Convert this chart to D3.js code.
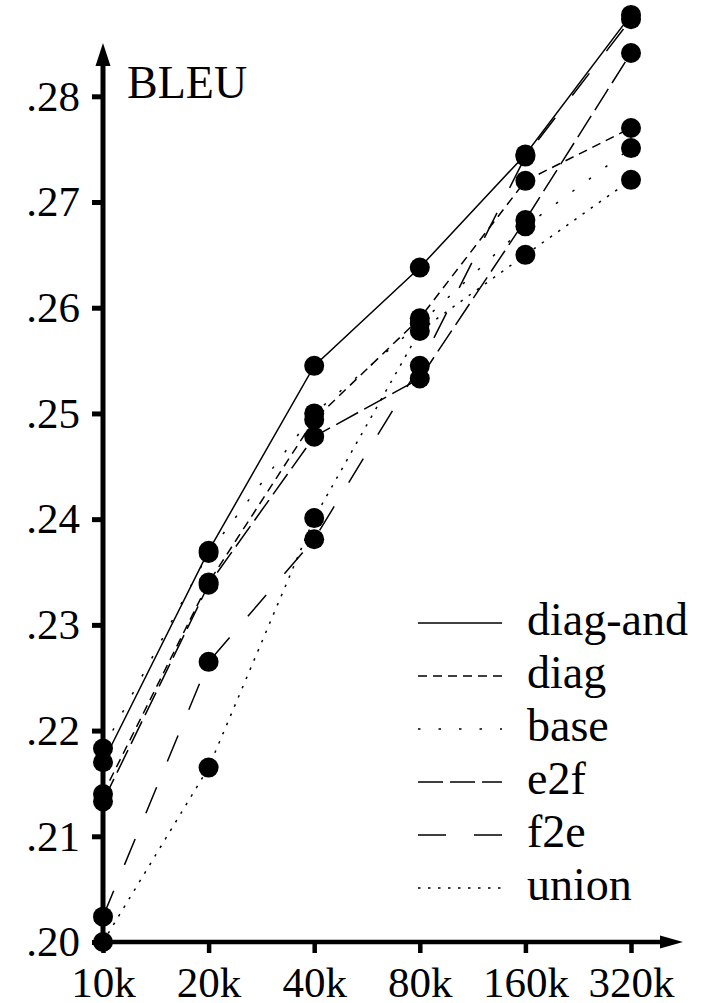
<!DOCTYPE html>
<html>
<head>
<meta charset="utf-8">
<script src="https://cdn.jsdelivr.net/npm/d3@7"></script>
<style>
  body { margin: 0; background: #fff; }
</style>
</head>
<body>
<div id="chart"></div>
<script>
// training corpus sizes (x categories)
var sizes = ["10k", "20k", "40k", "80k", "160k", "320k"];

// BLEU per heuristic
var diagAnd = [0.2170, 0.2370, 0.2545, 0.2638, 0.2745, 0.2877];
var diag    = [0.2140, 0.2340, 0.2494, 0.2590, 0.2720, 0.2770];
var base    = [0.2183, 0.2368, 0.2500, 0.2585, 0.2677, 0.2751];
var e2f     = [0.2133, 0.2338, 0.2478, 0.2533, 0.2683, 0.2841];
var f2e     = [0.2024, 0.2265, 0.2381, 0.2545, 0.2743, 0.2873];
var union   = [0.2000, 0.2165, 0.2401, 0.2578, 0.2650, 0.2721];

var seriesNames = ["diag-and", "diag", "base", "e2f", "f2e", "union"];
var seriesValues = [diagAnd, diag, base, e2f, f2e, union];

var yTicks = [0.20, 0.21, 0.22, 0.23, 0.24, 0.25, 0.26, 0.27, 0.28];
var yLabel = "BLEU";

// line styles by heuristic
var dashFor = {
    "diag-and": null,
    "diag": "9,6",
    "base": "2.5,18",
    "e2f": "25,7",
    "f2e": "28,28",
    "union": "2.5,7.5"
};

var serif = "'Liberation Serif', 'Times New Roman', serif";
var width = 708, height = 1003;

var svg = d3.select("#chart")
    .append("svg")
    .attr("width", width)
    .attr("height", height)
    .style("font-family", serif);

svg.append("rect").attr("width", width).attr("height", height).attr("fill", "#fff");

var x = d3.scalePoint()
    .domain(sizes)
    .range([103, 631]);

var y = d3.scaleLinear()
    .domain([0.20, 0.28])
    .range([942, 96.3]);

// y axis ticks + labels
var yaxis = svg.append("g")
    .attr("transform", "translate(" + x(sizes[0]) + ",0)")
    .call(d3.axisLeft(y)
        .tickValues(yTicks)
        .tickSize(11)
        .tickPadding(12)
        .tickFormat(function(d) { return d3.format(".2f")(d).replace(/^0/, ""); }));
yaxis.attr("font-family", null).attr("font-size", null);
yaxis.select(".domain").remove();
yaxis.selectAll(".tick line").attr("stroke", "#000").attr("stroke-width", 5);
yaxis.selectAll("text")
    .style("font-family", serif)
    .style("font-size", "43px")
    .attr("fill", "#000");

// x axis ticks + labels
var xaxis = svg.append("g")
    .attr("transform", "translate(0," + y(0.20) + ")")
    .call(d3.axisBottom(x).tickSize(11).tickPadding(13));
xaxis.attr("font-family", null).attr("font-size", null);
xaxis.select(".domain").remove();
xaxis.selectAll(".tick line").attr("stroke", "#000").attr("stroke-width", 4.5);
xaxis.selectAll("text")
    .style("font-family", serif)
    .style("font-size", "43px")
    .attr("fill", "#000");

// axis lines with arrow heads
var x0 = x(sizes[0]), y0 = y(0.20);
svg.append("line")
    .attr("x1", x0).attr("y1", y0 + 2)
    .attr("x2", x0).attr("y2", 60)
    .attr("stroke", "#000").attr("stroke-width", 5);
svg.append("path")
    .attr("d", "M" + x0 + ",43L" + (x0 - 7.5) + ",66L" + (x0 + 7.5) + ",66Z")
    .attr("fill", "#000");
svg.append("line")
    .attr("x1", x0 - 2).attr("y1", y0)
    .attr("x2", 665).attr("y2", y0)
    .attr("stroke", "#000").attr("stroke-width", 4.5);
svg.append("path")
    .attr("d", "M683," + y0 + "L660," + (y0 - 6.5) + "L660," + (y0 + 6.5) + "Z")
    .attr("fill", "#000");

svg.append("text")
    .attr("x", 127)
    .attr("y", 98)
    .style("font-family", serif)
    .style("font-size", "46px")
    .text(yLabel);

// lines
var line = d3.line()
    .x(function(d, i) { return x(sizes[i]); })
    .y(function(d) { return y(d); });

seriesValues.forEach(function(vals, k) {
    svg.append("path")
        .datum(vals)
        .attr("d", line)
        .attr("fill", "none")
        .attr("stroke", "#000")
        .attr("stroke-width", 1.5)
        .attr("stroke-dasharray", dashFor[seriesNames[k]]);
});

// markers
seriesValues.forEach(function(vals) {
    svg.selectAll(null)
        .data(vals)
        .enter()
        .append("circle")
        .attr("cx", function(d, i) { return x(sizes[i]); })
        .attr("cy", function(d) { return y(d); })
        .attr("r", 10)
        .attr("fill", "#000");
});

// legend
var legend = svg.append("g");
seriesNames.forEach(function(name, i) {
    var ly = 623 + i * 53;
    legend.append("line")
        .attr("x1", 418).attr("x2", 502)
        .attr("y1", ly).attr("y2", ly)
        .attr("stroke", "#000")
        .attr("stroke-width", 1.5)
        .attr("stroke-dasharray", dashFor[name]);
    legend.append("text")
        .attr("x", 527)
        .attr("y", ly + 12)
        .style("font-family", serif)
        .style("font-size", "46px")
        .text(name);
});
</script>
</body>
</html>
